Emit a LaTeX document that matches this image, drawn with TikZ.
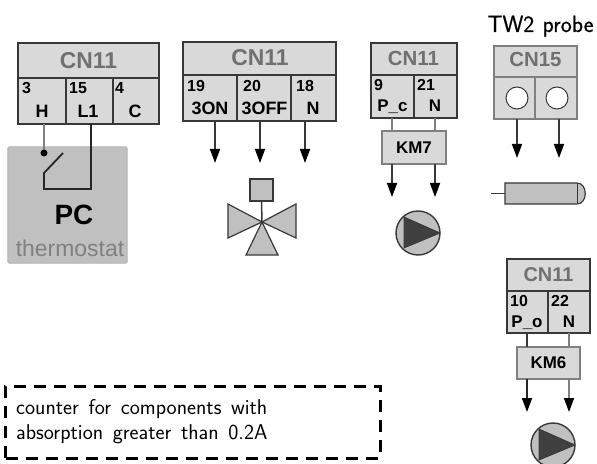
\documentclass[tikz,border=0pt]{standalone}
\usepackage{fontspec}
\setmainfont{Liberation Sans}
\setsansfont{Latin Modern Sans}
\newfontfamily\twfont[FakeBold=0.6]{Latin Modern Sans}
\usetikzlibrary{arrows.meta}
\definecolor{cellfill}{HTML}{D9D9D9}
\definecolor{partfill}{HTML}{C0C0C0}
\definecolor{edge}{HTML}{383838}
\definecolor{softedge}{HTML}{808080}
\definecolor{capgray}{HTML}{707070}
\tikzset{
  x=1bp,y=-1bp,
  cell/.style={draw=edge,line width=1.6bp,fill=cellfill,rectangle,inner sep=0pt,outer sep=0pt},
  softcell/.style={cell,draw=softedge},
  head/.style={font=\bfseries\fontsize{#1}{#1}\selectfont,text=capgray,anchor=base,inner sep=0pt},
  head/.default=23,
  pinno/.style={font=\bfseries\fontsize{16}{16}\selectfont,anchor=base west,inner sep=0pt},
  pinname/.style={font=\bfseries\fontsize{#1}{#1}\selectfont,anchor=base,inner sep=0pt},
  pinname/.default=18,
  wire/.style={draw=edge,line width=1.5bp},
  softwire/.style={draw=softedge,line width=1.7bp},
  blackwire/.style={draw=black!85,line width=1.8bp},
  arrowhead/.style={-{Triangle[length=14bp,width=10bp,color=black]}},
  part/.style={draw=edge,line width=1.2bp,fill=partfill},
  notetext/.style={anchor=base west,inner sep=0pt,font=\sffamily\fontsize{21.5}{21.5}\selectfont},
}
\newcommand{\cellbox}[6][cell]{\node[#1,minimum width=#5-#3,minimum height=#6-#4] (#2) at ({(#3+#5)/2},{(#4+#6)/2}) {};}
\newcommand{\pumpsym}[3]{%
  \node[circle,draw=edge,line width=1.4bp,fill=partfill,minimum size=44bp,inner sep=0pt] (#1) at (#2,#3) {};
  \fill[black!75,draw=edge,line width=.8bp] (#2-14,#3-16) -- (#2+22,#3) -- (#2-14,#3+15) -- cycle;}
\begin{document}
\begin{tikzpicture}
\useasboundingbox (0,0) rectangle (597,464);
\fill[white] (0,0) rectangle (597,464);

% Block 1
\cellbox{a0}{18}{43}{159}{78}
\cellbox{a1}{18}{78}{66}{124}
\cellbox{a2}{66}{78}{113}{124}
\cellbox{a3}{113}{78}{159}{124}
\node[head] (a0t) at (88.5,69) {CN11};
\node[pinno] (a1n) at (22,94) {3};
\node[pinno] (a2n) at (69,94) {15};
\node[pinno] (a3n) at (115,94) {4};
\node[pinname] (a1t) at (42,118) {H};
\node[pinname] (a2t) at (88,118) {L1};
\node[pinname] (a3t) at (135,118) {C};
\node[rectangle,draw=black!30,line width=1bp,fill=partfill,rounded corners=1bp,minimum width=119bp,minimum height=116bp,inner sep=0pt] (pc) at (67.5,205) {};
\coordinate (sw) at (44,153);
\coordinate (swtop) at (63,153);
\coordinate (swknee) at (44,173);
\coordinate (swbl) at (44,189);
\coordinate (swbr) at (91,189);
\draw[softwire] (a1.south -| sw) -- (sw);
\fill[black] (sw) circle (3.5bp);
\draw[blackwire] (swtop) -- (swknee) -- (swbl) -- (swbr) -- (a2.south -| swbr);
\node[font=\bfseries\fontsize{28}{28}\selectfont,anchor=base,inner sep=0pt] (pct) at (74,225) {PC};
\node[font=\fontsize{23}{23}\selectfont,text=black!50,anchor=base,inner sep=0pt] (tht) at (70,257) {thermostat};

% Block 2
\cellbox{b0}{183}{42}{336}{75}
\cellbox{b1}{183}{75}{237}{121}
\cellbox{b2}{237}{75}{291}{121}
\cellbox{b3}{291}{75}{336}{121}
\node[head] (b0t) at (260,66) {CN11};
\node[pinno] (b1n) at (187,92) {19};
\node[pinno] (b2n) at (243,92) {20};
\node[pinno] (b3n) at (296,92) {18};
\node[pinname] (b1t) at (210,115) {3ON};
\node[pinname] (b2t) at (264.5,115) {3OFF};
\node[pinname] (b3t) at (313,115) {N};
\coordinate (t1) at (215,163);
\coordinate (t2) at (260,163);
\coordinate (t3) at (305,163);
\draw[wire,arrowhead] (b1.south -| t1) -- (t1);
\draw[wire,arrowhead] (b2.south -| t2) -- (t2);
\draw[wire,arrowhead] (b3.south -| t3) -- (t3);
\node[part,rectangle,minimum width=23bp,minimum height=22bp,inner sep=0pt] (act) at (261.5,190) {};
\coordinate (vc) at (262,222);
\draw[wire] (act.south) -- (vc);
\draw[part] (vc) -- (228,204) -- (228,238) -- cycle;
\draw[part] (vc) -- (296,204) -- (296,238) -- cycle;
\draw[part] (vc) -- (246,255) -- (278,255) -- cycle;

% Block 3
\cellbox{c0}{371}{43}{457}{75}
\cellbox{c1}{371}{75}{414}{118}
\cellbox{c2}{414}{75}{457}{118}
\node[head=20.5] (c0t) at (413.5,66) {CN11};
\node[pinno] (c1n) at (374,91) {9};
\node[pinno] (c2n) at (417,91) {21};
\node[pinname=17] (c1t) at (392.5,112) {P\_c};
\node[pinname=17] (c2t) at (435,112) {N};
\cellbox[softcell]{km7}{382}{131}{446}{164}
\node[pinname=17,anchor=center] (km7t) at (km7) {KM7};
\coordinate (u1) at (392,197);
\coordinate (u2) at (435,197);
\draw[softwire] (c1.south -| u1) -- (km7.north -| u1);
\draw[softwire] (c2.south -| u2) -- (km7.north -| u2);
\draw[wire,arrowhead] (km7.south -| u1) -- (u1);
\draw[wire,arrowhead] (km7.south -| u2) -- (u2);
\pumpsym{p1}{418}{233}

% CN15
\node[anchor=base,inner sep=0pt,font=\twfont\fontsize{23.5}{23.5}\selectfont] (tw) at (540.5,32) {TW2\hspace{.35em}probe};
\cellbox[softcell]{d0}{494}{46}{577}{77}
\cellbox[softcell]{d1}{494}{77}{535}{119}
\cellbox[softcell]{d2}{535}{77}{577}{119}
\node[head=20.5] (d0t) at (535.5,67) {CN15};
\node[circle,draw=edge,line width=1bp,fill=white,minimum size=22bp,inner sep=0pt] (dc1) at (517,98) {};
\node[circle,draw=edge,line width=1bp,fill=white,minimum size=22bp,inner sep=0pt] (dc2) at (557,98) {};
\coordinate (v1) at (517,158);
\coordinate (v2) at (559,158);
\draw[wire,arrowhead] (d1.south -| v1) -- (v1);
\draw[wire,arrowhead] (d2.south -| v2) -- (v2);
\coordinate (plead) at (491,193.5);
\coordinate (pbody) at (505,193.5);
\draw[wire] (plead) -- (pbody);
\draw[part] (505,183) -- (577,183) .. controls (588,183) and (588,204) .. (577,204) -- (505,204) -- cycle;
\draw[draw=edge,line width=1bp] (577,183) -- (577,204);

% Block 4
\cellbox{e0}{507}{259}{590}{291}
\cellbox{e1}{507}{291}{548}{333}
\cellbox{e2}{548}{291}{590}{333}
\node[head=20] (e0t) at (548.5,282) {CN11};
\node[pinno] (e1n) at (510,306) {10};
\node[pinno] (e2n) at (551,306) {22};
\node[pinname=17] (e1t) at (527,327) {P\_o};
\node[pinname=17] (e2t) at (569,327) {N};
\cellbox[softcell]{km6}{517}{347}{580}{379}
\node[pinname=17,anchor=center] (km6t) at (km6) {KM6};
\coordinate (w1) at (527,412);
\coordinate (w2) at (569,412);
\draw[wire] (e1.south -| w1) -- (km6.north -| w1);
\draw[softwire] (e2.south -| w2) -- (km6.north -| w2);
\draw[blackwire,arrowhead] (km6.south -| w1) -- (w1);
\draw[softwire,arrowhead] (km6.south -| w2) -- (w2);
\pumpsym{p2}{553}{445}

% Dashed note
\node[draw=black,line width=3bp,dash pattern=on 12bp off 8bp,rectangle,minimum width=374bp,minimum height=72bp,inner sep=0pt] (note) at (193,422) {};
\node[notetext] (n1) at (16,414) {\spaceskip=.45em\relax counter for components with};
\node[notetext] (n2) at (16,439) {\spaceskip=.45em\relax absorption greater than 0.2A};
\end{tikzpicture}
\end{document}
